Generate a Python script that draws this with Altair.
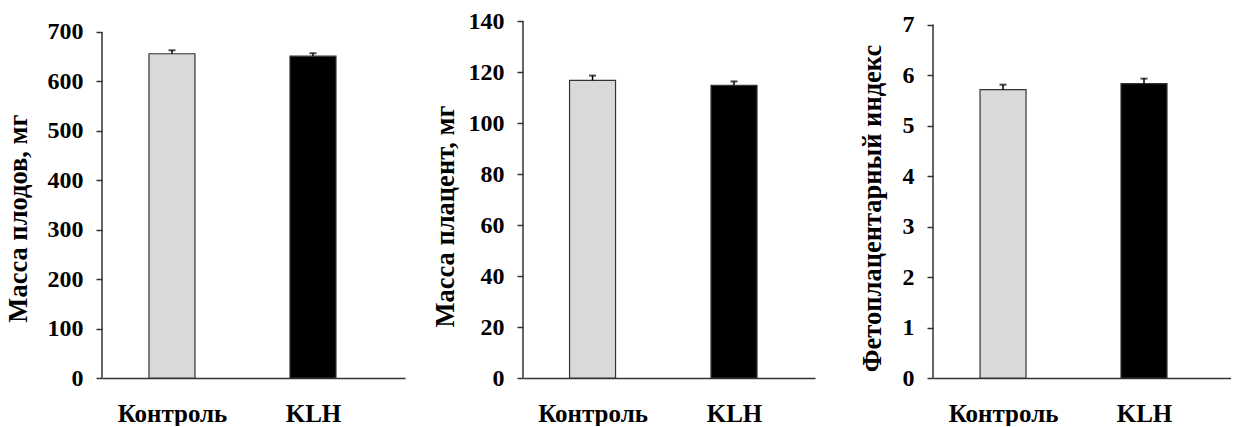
import altair as alt
import pandas as pd

groups = ["Контроль", "KLH"]
colors = ["#d9d9d9", "#000000"]

fruit_mean = [656, 651]
fruit_sem = [7, 6]
placenta_mean = [116.7, 114.8]
placenta_sem = [1.9, 1.5]
index_mean = [5.71, 5.83]
index_sem = [0.10, 0.10]

fruit_ticks = [0, 100, 200, 300, 400, 500, 600, 700]
placenta_ticks = [0, 20, 40, 60, 80, 100, 120, 140]
index_ticks = [0, 1, 2, 3, 4, 5, 6, 7]

titles = ["Масса плодов, мг", "Масса плацент, мг", "Фетоплацентарный индекс"]

FONT = "'Liberation Serif', 'Times New Roman', 'DejaVu Serif', serif"
AX = "#333333"
H = 357


def panel(means, sems, ticks, top, title, title_x, title_y, width, pad, align):
    df = pd.DataFrame({
        "group": groups,
        "value": means,
        "hi": [m + s for m, s in zip(means, sems)],
    })
    yscale = alt.Scale(domain=[0, top], nice=False, zero=True)
    yaxis = alt.Axis(
        values=ticks, domain=False, grid=False, tickSize=6, tickColor=AX,
        tickWidth=1.5, labelFont=FONT, labelFontSize=24, labelFontWeight="bold",
        labelColor="#000", labelPadding=13, title=title, titleFont=FONT,
        titleFontSize=26.5, titleFontWeight="bold", titleColor="#000",
        titleX=title_x, titleY=title_y, titleBaseline="alphabetic",
        titleAngle=-90, titleAlign="center",
    )
    xenc = alt.X(
        "group:N", sort=groups,
        scale=alt.Scale(type="point", padding=pad, align=align),
        axis=alt.Axis(
            title=None, labelAngle=0, ticks=False, domainColor=AX, domainWidth=1.5,
            labelFont=FONT, labelFontSize=25, labelFontWeight="bold",
            labelColor="#000", labelPadding=23, grid=False,
        ),
    )
    base = alt.Chart(df)
    bars = base.mark_bar(width=46, stroke=AX, strokeWidth=1.2).encode(
        x=xenc,
        y=alt.Y("value:Q", scale=yscale, axis=yaxis),
        color=alt.Color("group:N", scale=alt.Scale(domain=groups, range=colors), legend=None),
    )
    err = base.mark_rule(color="#000", strokeWidth=1.5).encode(
        x=xenc,
        y=alt.Y("value:Q", scale=yscale, axis=yaxis),
        y2="hi:Q",
    )
    cap = base.mark_tick(color="#000", size=7, thickness=2).encode(
        x=xenc,
        y=alt.Y("hi:Q", scale=yscale, axis=yaxis),
    )
    axis_line = alt.Chart(pd.DataFrame({"value": [0], "hi": [ticks[-1]]})).mark_rule(
        color=AX, strokeWidth=1.5
    ).encode(
        x=alt.value(0),
        y=alt.Y("value:Q", scale=yscale, axis=yaxis),
        y2="hi:Q",
    )
    return alt.layer(bars, err, cap, axis_line).properties(width=width, height=H)


p1 = panel(fruit_mean, fruit_sem, fruit_ticks, 700 * 357.3 / 346.3, titles[0],
           -76, 197, 303, 0.5745, 0.432)
p2 = panel(placenta_mean, placenta_sem, placenta_ticks, 140, titles[1],
           -70, 195, 292, 0.532, 0.462)
p3 = panel(index_mean, index_sem, index_ticks, 7 * 357.3 / 353.7, titles[2],
           -53, 187, 298, 0.557, 0.446)

chart = alt.hconcat(p1, p2, p3, spacing=118, bounds="flush").properties(
    padding={"left": 5, "top": 9, "right": 0, "bottom": 0}
).configure(background="white").configure_view(
    strokeWidth=0, stroke="transparent"
).configure_axis(grid=False)

chart.save("out.html", embed_options={"renderer": "svg", "actions": False})
